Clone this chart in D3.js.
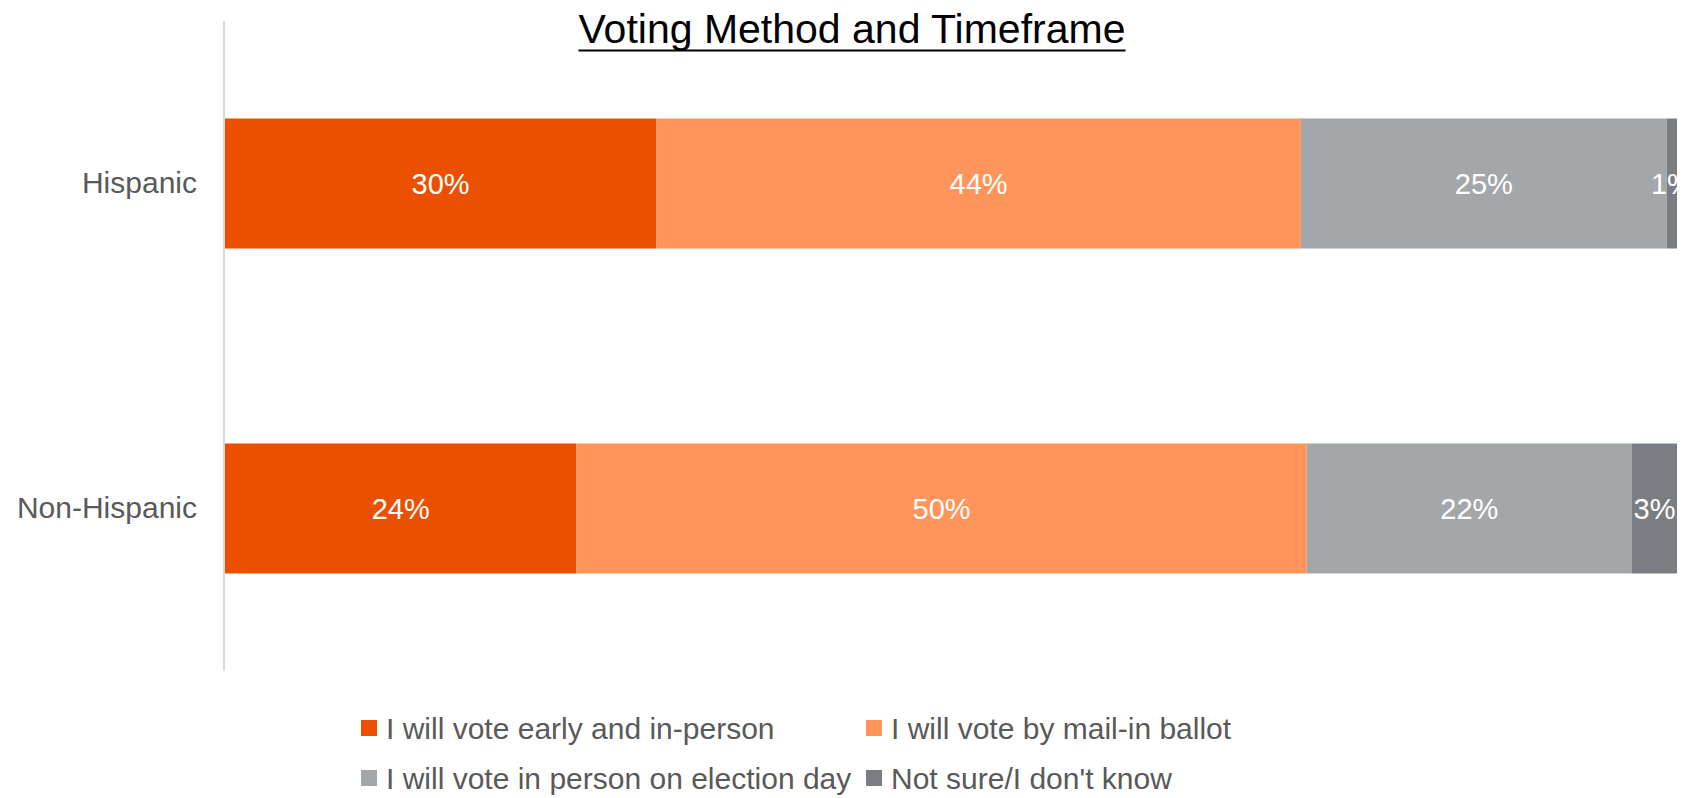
<!DOCTYPE html>
<html>
<head>
<meta charset="utf-8">
<script src="https://cdn.jsdelivr.net/npm/d3@7"></script>
<style>
  body { margin: 0; background: #fff; }
  svg { display: block; font-family: "Liberation Sans", Arial, sans-serif; }
</style>
</head>
<body>
<svg id="chart" width="1685" height="798"></svg>
<script>
// chart data (percent, 100% stacked)
const groups = ['Hispanic', 'Non-Hispanic']
const seriesNames = [
    'I will vote early and in-person',
    'I will vote by mail-in ballot',
    'I will vote in person on election day',
    "Not sure/I don't know"
]
const earlyInPerson = [29.7, 24.2]
const mailIn = [44.4, 50.3]
const electionDay = [25.2, 22.4]
const notSure = [0.7, 3.1]
const seriesColors = ['#EA5000', '#FF955A', '#A3A7AA', '#7A7E82']

const width = 1685, height = 798
const margin = {top: 21, right: 8, bottom: 127, left: 225}
const w = width - margin.left - margin.right
const h = height - margin.top - margin.bottom

const rows = groups.map((g, i) => ({
    group: g,
    values: [earlyInPerson[i], mailIn[i], electionDay[i], notSure[i]]
}))

const xScale = d3.scaleLinear().domain([0, 100]).range([0, w])
const yScale = d3.scaleBand()
    .domain(groups)
    .range([0, h])
    .paddingInner(0.6)
    .paddingOuter(0.3)

const svg = d3.select('#chart')

svg.append('defs').append('clipPath')
    .attr('id', 'plot-clip')
    .append('rect')
    .attr('x', 0).attr('y', 0)
    .attr('width', w).attr('height', h)

const plot = svg.append('g')
    .attr('transform', `translate(${margin.left},${margin.top})`)

// stacked segments
const segs = []
rows.forEach(r => {
    let acc = 0
    r.values.forEach((v, k) => {
        segs.push({group: r.group, k: k, x0: acc, x1: acc + v, v: v})
        acc += v
    })
})

const inner = plot.append('g').attr('clip-path', 'url(#plot-clip)')

inner.selectAll('rect.seg')
    .data(segs)
    .enter()
    .append('rect')
    .attr('class', 'seg')
    .attr('x', d => xScale(d.x0))
    .attr('y', d => yScale(d.group))
    .attr('width', d => xScale(d.x1) - xScale(d.x0))
    .attr('height', yScale.bandwidth())
    .attr('fill', d => seriesColors[d.k])

inner.selectAll('text.val')
    .data(segs)
    .enter()
    .append('text')
    .attr('class', 'val')
    .attr('x', d => (xScale(d.x0) + xScale(d.x1)) / 2)
    .attr('y', d => yScale(d.group) + yScale.bandwidth() / 2)
    .attr('dy', '0.36em')
    .attr('text-anchor', 'middle')
    .attr('fill', '#fff')
    .style('font-size', '29px')
    .text(d => Math.round(d.v) + '%')

// category axis
const yAxis = d3.axisLeft(yScale).tickSize(0).tickPadding(28)
const yg = plot.append('g').call(yAxis)
yg.select('.domain').remove()
yg.selectAll('text')
    .attr('fill', '#595959')
    .style('font-size', '30px')
    .style('font-family', '"Liberation Sans", Arial, sans-serif')

plot.append('line')
    .attr('x1', -1).attr('x2', -1)
    .attr('y1', 0).attr('y2', h)
    .attr('stroke', '#D9D9D9')
    .attr('stroke-width', 2)

// title
const title = svg.append('text')
    .attr('x', 852)
    .attr('y', 43)
    .attr('text-anchor', 'middle')
    .attr('fill', '#000')
    .style('font-size', '41px')
    .text('Voting Method and Timeframe')
const tb = title.node().getBBox()
svg.append('line')
    .attr('x1', tb.x).attr('x2', tb.x + tb.width)
    .attr('y1', 50.5).attr('y2', 50.5)
    .attr('stroke', '#000')
    .attr('stroke-width', 2)

// legend, two columns
const legendCols = [361, 866]
const legendRows = [720, 770]
const legend = svg.append('g')
seriesNames.forEach((name, i) => {
    const lx = legendCols[i % 2]
    const ly = legendRows[Math.floor(i / 2)]
    legend.append('rect')
        .attr('x', lx).attr('y', ly)
        .attr('width', 16).attr('height', 16)
        .attr('fill', seriesColors[i])
    legend.append('text')
        .attr('x', lx + 25)
        .attr('y', ly + 8)
        .attr('dy', '0.36em')
        .attr('fill', '#595959')
        .style('font-size', '30px')
        .text(name)
})
</script>
</body>
</html>
